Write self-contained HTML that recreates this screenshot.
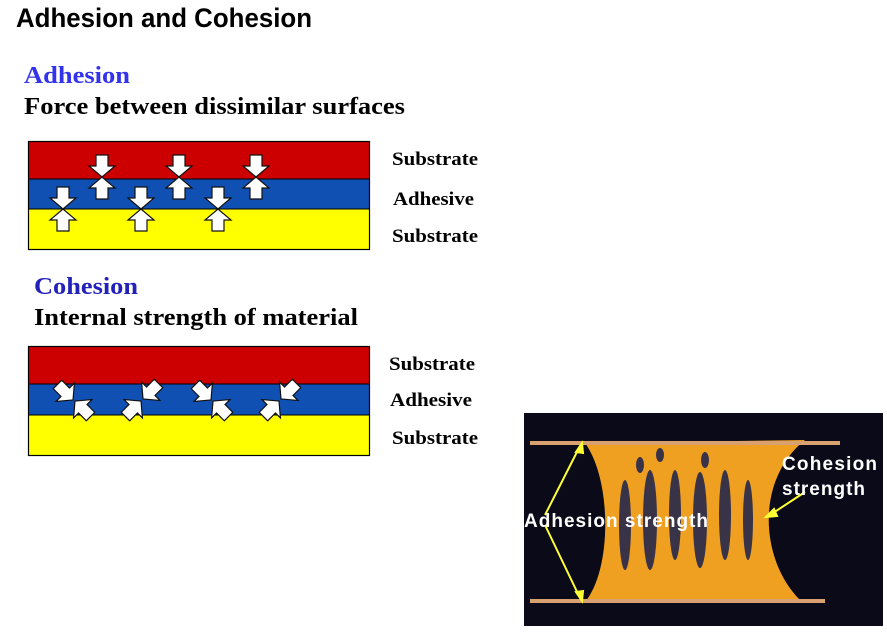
<!DOCTYPE html>
<html><head><meta charset="utf-8"><style>
body{margin:0;background:#fff;width:887px;height:629px;overflow:hidden;font-family:"Liberation Serif",serif}
</style></head><body>
<svg width="887" height="629" xmlns="http://www.w3.org/2000/svg">
<defs>
<polygon id="ad" points="-6,-22 6,-22 6,-11 13,-11 0,0 -13,-11 -6,-11" fill="#fff" stroke="#111" stroke-width="1.2"/>
</defs>
<text x="16" y="27" font-family="Liberation Sans, sans-serif" font-size="27" font-weight="bold" fill="#000" textLength="296" lengthAdjust="spacingAndGlyphs">Adhesion and Cohesion</text>
<text x="24" y="83" font-size="24" font-weight="bold" fill="#3333ee" textLength="106" lengthAdjust="spacingAndGlyphs">Adhesion</text>
<text x="24" y="114" font-size="24" font-weight="bold" fill="#000" textLength="381" lengthAdjust="spacingAndGlyphs">Force between dissimilar surfaces</text>
<rect x="28" y="141" width="342" height="38" fill="#cc0000"/>
<rect x="28" y="179" width="342" height="30" fill="#1150b3"/>
<rect x="28" y="209" width="342" height="41" fill="#ffff00"/>
<rect x="28.5" y="141.5" width="341" height="108" fill="none" stroke="#000" stroke-width="1.2"/>
<line x1="28" y1="179" x2="370" y2="179" stroke="#000"/><line x1="28" y1="209" x2="370" y2="209" stroke="#000"/>
<g>
<use href="#ad" x="102" y="177"/><use href="#ad" transform="translate(102,177) rotate(180)"/>
<use href="#ad" x="179" y="177"/><use href="#ad" transform="translate(179,177) rotate(180)"/>
<use href="#ad" x="256" y="177"/><use href="#ad" transform="translate(256,177) rotate(180)"/>
<use href="#ad" x="63" y="209"/><use href="#ad" transform="translate(63,209) rotate(180)"/>
<use href="#ad" x="141" y="209"/><use href="#ad" transform="translate(141,209) rotate(180)"/>
<use href="#ad" x="218" y="209"/><use href="#ad" transform="translate(218,209) rotate(180)"/>
</g>
<g font-size="19" font-weight="bold">
<text x="392" y="165" textLength="86" lengthAdjust="spacingAndGlyphs">Substrate</text><text x="393" y="205" textLength="81" lengthAdjust="spacingAndGlyphs">Adhesive</text><text x="392" y="242" textLength="86" lengthAdjust="spacingAndGlyphs">Substrate</text>
</g>
<text x="34" y="294" font-size="24" font-weight="bold" fill="#2222bb" textLength="104" lengthAdjust="spacingAndGlyphs">Cohesion</text>
<text x="34" y="325" font-size="24" font-weight="bold" fill="#000" textLength="324" lengthAdjust="spacingAndGlyphs">Internal strength of material</text>
<rect x="28" y="346" width="342" height="38" fill="#cc0000"/>
<rect x="28" y="384" width="342" height="31" fill="#1150b3"/>
<rect x="28" y="415" width="342" height="41" fill="#ffff00"/>
<rect x="28.5" y="346.5" width="341" height="109" fill="none" stroke="#000" stroke-width="1.2"/>
<line x1="28" y1="384" x2="370" y2="384" stroke="#000"/><line x1="28" y1="415" x2="370" y2="415" stroke="#000"/>
<g>
<use href="#ad" transform="translate(73,400) rotate(-45)"/>
<use href="#ad" transform="translate(75,401) rotate(135)"/>
<use href="#ad" transform="translate(143,399) rotate(45)"/>
<use href="#ad" transform="translate(141,401) rotate(-135)"/>
<use href="#ad" transform="translate(211,400) rotate(-45)"/>
<use href="#ad" transform="translate(213,401) rotate(135)"/>
<use href="#ad" transform="translate(281,399) rotate(45)"/>
<use href="#ad" transform="translate(279,401) rotate(-135)"/>
</g>
<g font-size="19" font-weight="bold">
<text x="389" y="370" textLength="86" lengthAdjust="spacingAndGlyphs">Substrate</text><text x="390" y="406" textLength="82" lengthAdjust="spacingAndGlyphs">Adhesive</text><text x="392" y="444" textLength="86" lengthAdjust="spacingAndGlyphs">Substrate</text>
</g>
<!-- photo -->
<rect x="524" y="413" width="359" height="213" fill="#0a0a18"/>
<path d="M585,443 C612,480 612,570 585,602 L800,600 C760,560 755,480 805,440 Z" fill="#f0a020"/>
<g fill="#1a2050" opacity="0.85">
<ellipse cx="625" cy="525" rx="6" ry="45"/><ellipse cx="650" cy="520" rx="7" ry="50"/><ellipse cx="675" cy="515" rx="6" ry="45"/>
<ellipse cx="700" cy="520" rx="7" ry="48"/><ellipse cx="725" cy="515" rx="6" ry="45"/><ellipse cx="748" cy="520" rx="5" ry="40"/>
<ellipse cx="640" cy="465" rx="4" ry="8"/><ellipse cx="660" cy="455" rx="4" ry="7"/><ellipse cx="705" cy="460" rx="4" ry="8"/>
</g>
<rect x="530" y="441" width="310" height="4" fill="#d9a070"/>
<rect x="530" y="599" width="295" height="4" fill="#d9a070"/>
<g stroke="#ffff33" stroke-width="2" fill="#ffff33">
<line x1="545" y1="515" x2="580" y2="446"/><line x1="545" y1="525" x2="580" y2="598"/>
<line x1="805" y1="492" x2="770" y2="515"/>
<polygon points="582,443 576,452 583,453" /><polygon points="582,601 576,592 583,591"/>
<polygon points="766,517 774,509 777,516"/>
</g>
<g font-family="Liberation Sans, sans-serif" font-weight="bold" font-size="19" fill="#fff">
<text x="524" y="527" textLength="184" lengthAdjust="spacing">Adhesion strength</text>
<text x="782" y="470" textLength="95" lengthAdjust="spacing">Cohesion</text><text x="782" y="495" textLength="83" lengthAdjust="spacing">strength</text>
</g>
</svg>
</body></html>
